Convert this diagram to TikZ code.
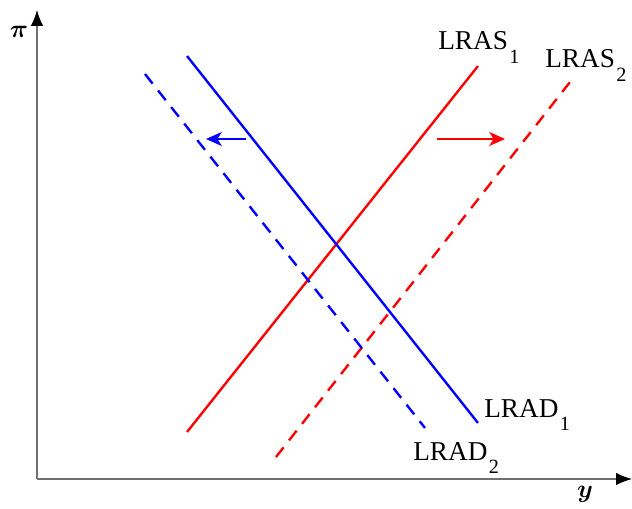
\documentclass[tikz,border=0pt]{standalone}
\usepackage{fontspec}
\setmainfont{Liberation Serif}
\usepackage{bm}
\usepackage{xcolor}
\usepackage{tikz}
\usetikzlibrary{arrows.meta}
\definecolor{ShiftAxis}{HTML}{707070}
\definecolor{ShiftSupply}{HTML}{FF0000}
\definecolor{ShiftDemand}{HTML}{0000FF}
\newcommand{\lowsub}[1]{\kern0.8pt\raisebox{-7.9pt}{\fontsize{11.5pt}{13pt}\selectfont #1}}
\tikzset{
  curvesolid/.style={line width=1.35pt},
  curvedash/.style={line width=1.35pt, dash pattern=on 7pt off 5pt},
  shiftarrow/.style={line width=1pt, -{Stealth[length=9pt,width=8pt,inset=2.5pt]}},
  curvelabel/.style={anchor=base west, inner sep=0pt, font=\fontsize{15.5pt}{18pt}\selectfont}
}
\begin{document}
\begin{tikzpicture}[x=0.02cm,y=0.02cm]
        \useasboundingbox (0,0) rectangle (632,508);
        \coordinate (origin) at (37,29);
        \coordinate (ytip) at (37,498);
        \coordinate (xtip) at (632,29);
        \draw[ShiftAxis, line width=0.6pt, -{Latex[length=9pt,width=7pt,black]}] (origin) -- (ytip);
        \draw[ShiftAxis, line width=0.6pt, -{Latex[length=9pt,width=7pt,black]}] (origin) -- (xtip);
        \node (pi) at (19,476) {\fontsize{15pt}{17pt}\selectfont$\bm{\pi}$};
        \node (yvar) at (585,14) {\fontsize{15pt}{17pt}\selectfont$\bm{y}$};
        \coordinate (as1a) at (187,76);
        \coordinate (as1b) at (478,442);
        \coordinate (as2a) at (276,51);
        \coordinate (as2b) at (570,426);
        \coordinate (ad1a) at (187,452);
        \coordinate (ad1b) at (478,85);
        \coordinate (ad2a) at (145,434);
        \coordinate (ad2b) at (425,80);
        \draw[ShiftSupply, curvesolid] (as1a) -- (as1b);
        \draw[ShiftSupply, curvedash] (as2a) -- (as2b);
        \draw[ShiftDemand, curvesolid] (ad1a) -- (ad1b);
        \draw[ShiftDemand, curvedash] (ad2a) -- (ad2b);
        \coordinate (lefttail) at (246,369);
        \coordinate (lefthead) at (206,369);
        \coordinate (righttail) at (437,369);
        \coordinate (righthead) at (505,369);
        \draw[ShiftDemand, shiftarrow] (lefttail) -- (lefthead);
        \draw[ShiftSupply, shiftarrow] (righttail) -- (righthead);
        \foreach \name/\x/\y/\label in {las1/438/458/{LRAS\lowsub{1}},las2/545/440/{LRAS\lowsub{2}},lad1/484/91/{LRAD\lowsub{1}},lad2/413/48/{LRAD\lowsub{2}}} {
          \node[curvelabel] (\name) at (\x,\y) {\label};
        }
      \end{tikzpicture}
\end{document}
